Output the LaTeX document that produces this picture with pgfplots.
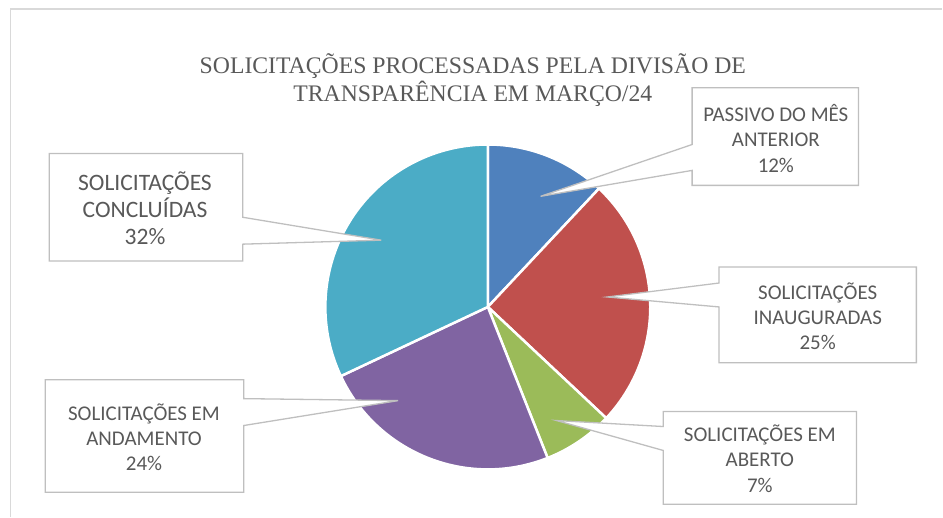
\documentclass[border=0pt]{standalone}
\usepackage{pgfplots}
\pgfplotsset{compat=1.18}
\usepackage{pgfplotstable}
\usepackage{fontspec}
\setmainfont{Liberation Serif}
\newfontfamily\lbl{Carlito}
\definecolor{c0}{HTML}{4F81BD}
\definecolor{c1}{HTML}{C0504D}
\definecolor{c2}{HTML}{9BBB59}
\definecolor{c3}{HTML}{8064A2}
\definecolor{c4}{HTML}{4BACC6}
\definecolor{txt}{HTML}{595959}
\definecolor{cline}{HTML}{BFBFBF}
\definecolor{frm}{HTML}{D9D9D9}

\pgfplotstableread{
idx value
0 12
1 25
2 7
3 24
4 32
}\piedata

\newcommand\lbline[3]{\node[anchor=base, font=\lbl\fontsize{21}{25}\selectfont, text=txt, inner sep=0pt] at (axis cs:#1,{519-#2-6.75}) {#3};}
\newcommand\lblineL[3]{\node[anchor=base, font=\lbl\fontsize{23.6}{28}\selectfont, text=txt, inner sep=0pt] at (axis cs:#1,{519-#2-7.6}) {#3};}
\newcommand\ttline[3]{\node[anchor=base, font=\fontsize{23.8}{28}\selectfont, text=txt, inner sep=0pt] at (axis cs:#1,{519-#2-7.9}) {#3};}

\begin{document}
\def\cum{0}
\pgfplotsforeachungrouped \i in {0,...,4}{%
  \pgfplotstablegetelem{\i}{value}\of\piedata
  \pgfmathsetmacro\sA{90-3.6*\cum}%
  \pgfmathsetmacro\cumnew{\cum+\pgfplotsretval}%
  \pgfmathsetmacro\eA{90-3.6*\cumnew}%
  \expandafter\xdef\csname sA\i\endcsname{\sA}%
  \expandafter\xdef\csname eA\i\endcsname{\eA}%
  \xdef\cum{\cumnew}%
}%
\begin{tikzpicture}
\begin{axis}[
  x=1pt, y=1pt,
  xmin=0, xmax=943, ymin=0, ymax=519,
  hide axis, clip=false,
]
\path (axis cs:0,0) rectangle (axis cs:943,519);
% chart frame
\draw[frm, line width=1.5pt] (axis cs:8,0) -- (axis cs:8,510) -- (axis cs:943,510);
% pie slices
\pgfplotsinvokeforeach{0,...,4}{
  \filldraw[fill=c#1, draw=white, line width=2.5pt, line join=round]
    (axis cs:487,211) -- ([shift={(\csname sA#1\endcsname:163pt)}]axis cs:487,211)
    arc[start angle=\csname sA#1\endcsname, end angle=\csname eA#1\endcsname, radius=163pt] -- cycle;
}
% callouts
\filldraw[fill=white, draw=cline, line width=1.3pt]
  (axis cs:692,431) -- (axis cs:859,431) -- (axis cs:859,333) -- (axis cs:692,333) -- (axis cs:692,348) -- (axis cs:540,322) -- (axis cs:692,374) -- cycle;
\filldraw[fill=white, draw=cline, line width=1.3pt]
  (axis cs:47,365) -- (axis cs:241,365) -- (axis cs:241,301) -- (axis cs:380,278) -- (axis cs:241,274) -- (axis cs:241,257) -- (axis cs:47,257) -- cycle;
\filldraw[fill=white, draw=cline, line width=1.3pt]
  (axis cs:719,251) -- (axis cs:917,251) -- (axis cs:917,155) -- (axis cs:719,155) -- (axis cs:719,211) -- (axis cs:607,221) -- (axis cs:719,235) -- cycle;
\filldraw[fill=white, draw=cline, line width=1.3pt]
  (axis cs:43,138) -- (axis cs:242,138) -- (axis cs:242,119) -- (axis cs:397,117) -- (axis cs:242,92) -- (axis cs:242,25) -- (axis cs:43,25) -- cycle;
\filldraw[fill=white, draw=cline, line width=1.3pt]
  (axis cs:663,106) -- (axis cs:857,106) -- (axis cs:857,13) -- (axis cs:663,13) -- (axis cs:663,67) -- (axis cs:556,97) -- (axis cs:663,91) -- cycle;
% title
\ttline{472}{66}{SOLICITAÇÕES PROCESSADAS PELA DIVISÃO DE}
\ttline{472}{94}{TRANSPARÊNCIA EM MARÇO/24}
% labels
\lbline{776}{115}{PASSIVO DO MÊS}
\lbline{776}{140}{ANTERIOR}
\lbline{776}{166}{12\%}
\lblineL{143}{184}{SOLICITAÇÕES}
\lblineL{143}{211}{CONCLUÍDAS}
\lblineL{143}{238}{32\%}
\lbline{818}{294}{SOLICITAÇÕES}
\lbline{818}{319}{INAUGURADAS}
\lbline{818}{344}{25\%}
\lbline{142}{415}{SOLICITAÇÕES EM}
\lbline{142}{440}{ANDAMENTO}
\lbline{142}{465}{24\%}
\lbline{760}{436}{SOLICITAÇÕES EM}
\lbline{760}{461}{ABERTO}
\lbline{760}{487}{7\%}
\end{axis}
\end{tikzpicture}
\end{document}
